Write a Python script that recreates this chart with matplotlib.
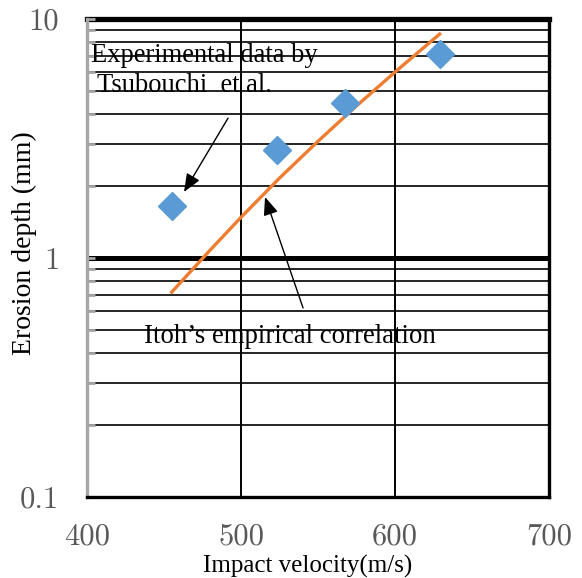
import matplotlib
matplotlib.use("Agg")
import matplotlib.pyplot as plt
from matplotlib.ticker import FixedLocator, NullFormatter

# Data
exp_velocity = [455.5, 523.5, 567.5, 629.0]
exp_depth = [1.65, 2.82, 4.45, 7.15]
itoh_velocity = [455, 480, 500, 525, 550, 575, 600, 629]
itoh_depth = [0.72, 1.08, 1.48, 2.16, 3.08, 4.33, 6.0, 8.65]
x_ticks = [400, 500, 600, 700]
x_tick_labels = ["400", "500", "600", "700"]
y_ticks = [0.1, 1, 10]
y_tick_labels = ["0.1", "1", "10"]

serif = ["Liberation Serif", "DejaVu Serif"]
tickfont = ["cmr10", "Liberation Serif"]
plt.rcParams["font.family"] = tickfont

fig = plt.figure(figsize=(5.82, 5.78), dpi=100)
ax = fig.add_axes([0.1495, 0.1401, 0.7938, 0.8270])
ax.set_xlim(400, 700)
ax.set_yscale("log")
ax.set_ylim(0.1, 10)

# grid
minor_vals = [m * 10.0 ** e for e in (-1, 0) for m in range(2, 10)]
for v in minor_vals:
    ax.axhline(v, color="black", lw=1.2, zorder=1)
ax.axhline(1, color="black", lw=3.6, zorder=1)
ax.axhline(10, color="black", lw=3.8, zorder=1, clip_on=False)
for xv in [500, 600]:
    ax.axvline(xv, color="black", lw=1.4, zorder=1)

ax.spines["top"].set_visible(False)
ax.spines["right"].set_linewidth(2.4)
ax.spines["bottom"].set_linewidth(2.4)
ax.spines["left"].set_linewidth(2.4)
ax.spines["left"].set_color("#a6a6a6")

ax.set_xticks(x_ticks, x_tick_labels, fontfamily=tickfont)
ax.set_yticks(y_ticks, y_tick_labels, fontfamily=tickfont)
ax.yaxis.set_minor_locator(FixedLocator(minor_vals))
ax.yaxis.set_minor_formatter(NullFormatter())
ax.tick_params(axis="x", length=0, pad=19, labelsize=22, labelcolor="#595959")
ax.tick_params(axis="y", which="major", length=6, width=2, color="#a6a6a6",
               direction="in", pad=20, labelsize=22, labelcolor="#595959")
ax.tick_params(axis="y", which="minor", length=6, width=2, color="#a6a6a6",
               direction="in")

ax.plot(itoh_velocity, itoh_depth, color="#ED7D31", lw=2.4, zorder=3)
ax.plot(exp_velocity, exp_depth, linestyle="none", marker="D", markersize=14,
        color="#5B9BD5", zorder=4)

fig.text(308 / 582, 1 - 566 / 578, "Impact velocity(m/s)", family=serif,
         fontsize=18, ha="center", va="center")
fig.text(24 / 582, 1 - 243 / 578, "Erosion depth (mm)", family=serif,
         fontsize=20, rotation=90, ha="center", va="center")

ax.text(402.6, 6.61, "Experimental data by", family=serif, fontsize=19.1,
        va="baseline", zorder=5)
ax.text(406.5, 4.95, "Tsubouchi  et al.", family=serif, fontsize=19.1,
        va="baseline", zorder=5)
ax.annotate("", xy=(463, 1.89), xytext=(491.6, 3.85),
            arrowprops=dict(arrowstyle="-|>,head_length=1.1,head_width=0.45",
                            color="black", lw=1.0, shrinkA=0, shrinkB=0))
ax.text(437, 0.441, "Itoh\u2019s empirical correlation", family=serif,
        fontsize=19.3, va="baseline", zorder=5)
ax.annotate("", xy=(515.6, 1.80), xytext=(540.3, 0.618),
            arrowprops=dict(arrowstyle="-|>,head_length=1.1,head_width=0.45",
                            color="black", lw=1.0, shrinkA=0, shrinkB=0))

fig.savefig("out.png", dpi=100)
